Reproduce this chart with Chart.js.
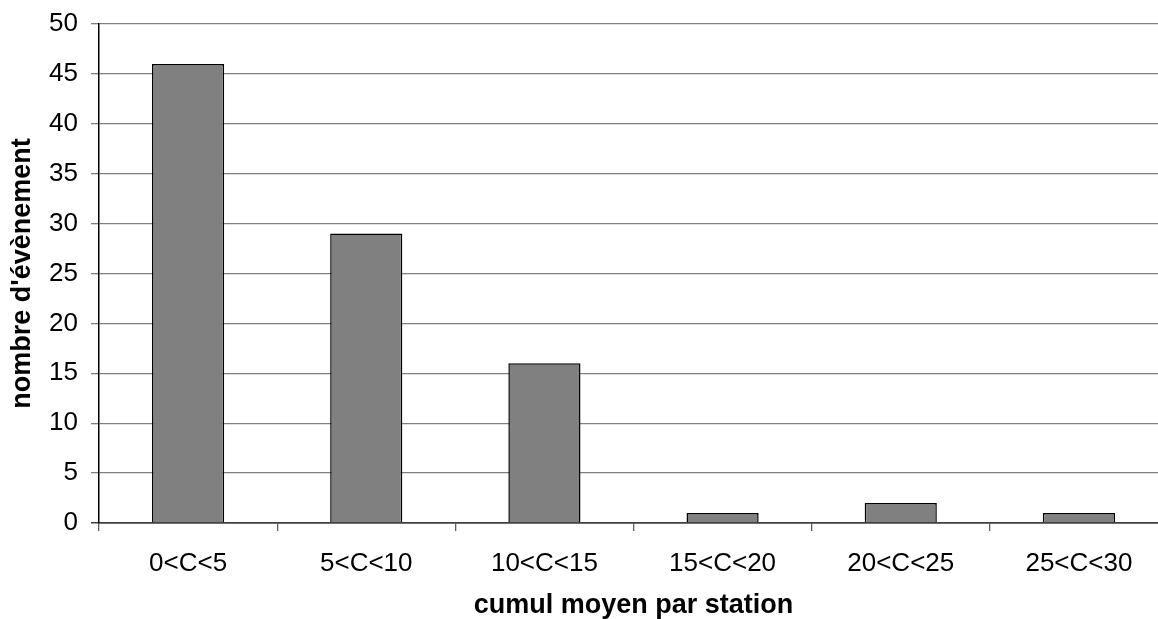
<!DOCTYPE html>
<html>
<head>
<meta charset="utf-8">
<script src="https://cdn.jsdelivr.net/npm/chart.js@4/dist/chart.umd.min.js"></script>
<style>
  html, body { margin: 0; padding: 0; background: #fff; overflow: hidden; }
  #wrap { width: 1170px; height: 619px; position: relative; }
</style>
</head>
<body>
<div id="wrap"><canvas id="chart"></canvas></div>
<script>
const categories = ['0<C<5', '5<C<10', '10<C<15', '15<C<20', '20<C<25', '25<C<30'];
const counts = [46, 29, 16, 1, 2, 1];
const yTicks = [0, 5, 10, 15, 20, 25, 30, 35, 40, 45, 50];

Chart.defaults.font.family = '"Liberation Sans", Arial, sans-serif';
Chart.defaults.color = '#000';

new Chart(document.getElementById('chart').getContext('2d'), {
  type: 'bar',
  data: {
    labels: categories,
    datasets: [{
      data: counts,
      backgroundColor: '#808080',
      borderColor: '#000',
      borderWidth: 1.5,
      barPercentage: 0.405,
      categoryPercentage: 1
    }]
  },
  options: {
    responsive: true,
    maintainAspectRatio: false,
    animation: false,
    layout: { padding: { top: 24, right: 2, left: 0, bottom: 0 } },
    plugins: { legend: { display: false }, tooltip: { enabled: false } },
    scales: {
      x: {
        offset: true,
        grid: { offset: true, drawOnChartArea: false, drawTicks: true, tickLength: 8, color: '#606060', lineWidth: 1.3 },
        border: { color: '#404040', width: 1.5 },
        ticks: { font: { size: 26 }, padding: 17, maxRotation: 0 },
        title: { display: true, text: 'cumul moyen par station', font: { size: 27, weight: 'bold', lineHeight: 1 }, padding: 0 },
        afterFit: s => { s.height = 96; s.paddingLeft = 0; s.paddingRight = 0; }
      },
      y: {
        min: 0,
        max: 50,
        afterBuildTicks: s => { s.ticks = yTicks.map(v => ({ value: v })); },
        grid: {
          color: c => c.tick && c.tick.value === 0 ? '#404040' : '#808080',
          lineWidth: c => c.tick && c.tick.value === 0 ? 1.5 : 1.3,
          tickLength: 8
        },
        border: { color: '#000', width: 1.5 },
        ticks: { font: { size: 26 }, padding: 13 },
        title: { display: true, text: "nombre d'évènement", font: { size: 27, weight: 'bold', lineHeight: 1 }, padding: { top: 9, bottom: 0 } },
        afterFit: s => { s.width = 99; s.paddingTop = 0; s.paddingBottom = 0; }
      }
    }
  }
});
</script>
</body>
</html>
